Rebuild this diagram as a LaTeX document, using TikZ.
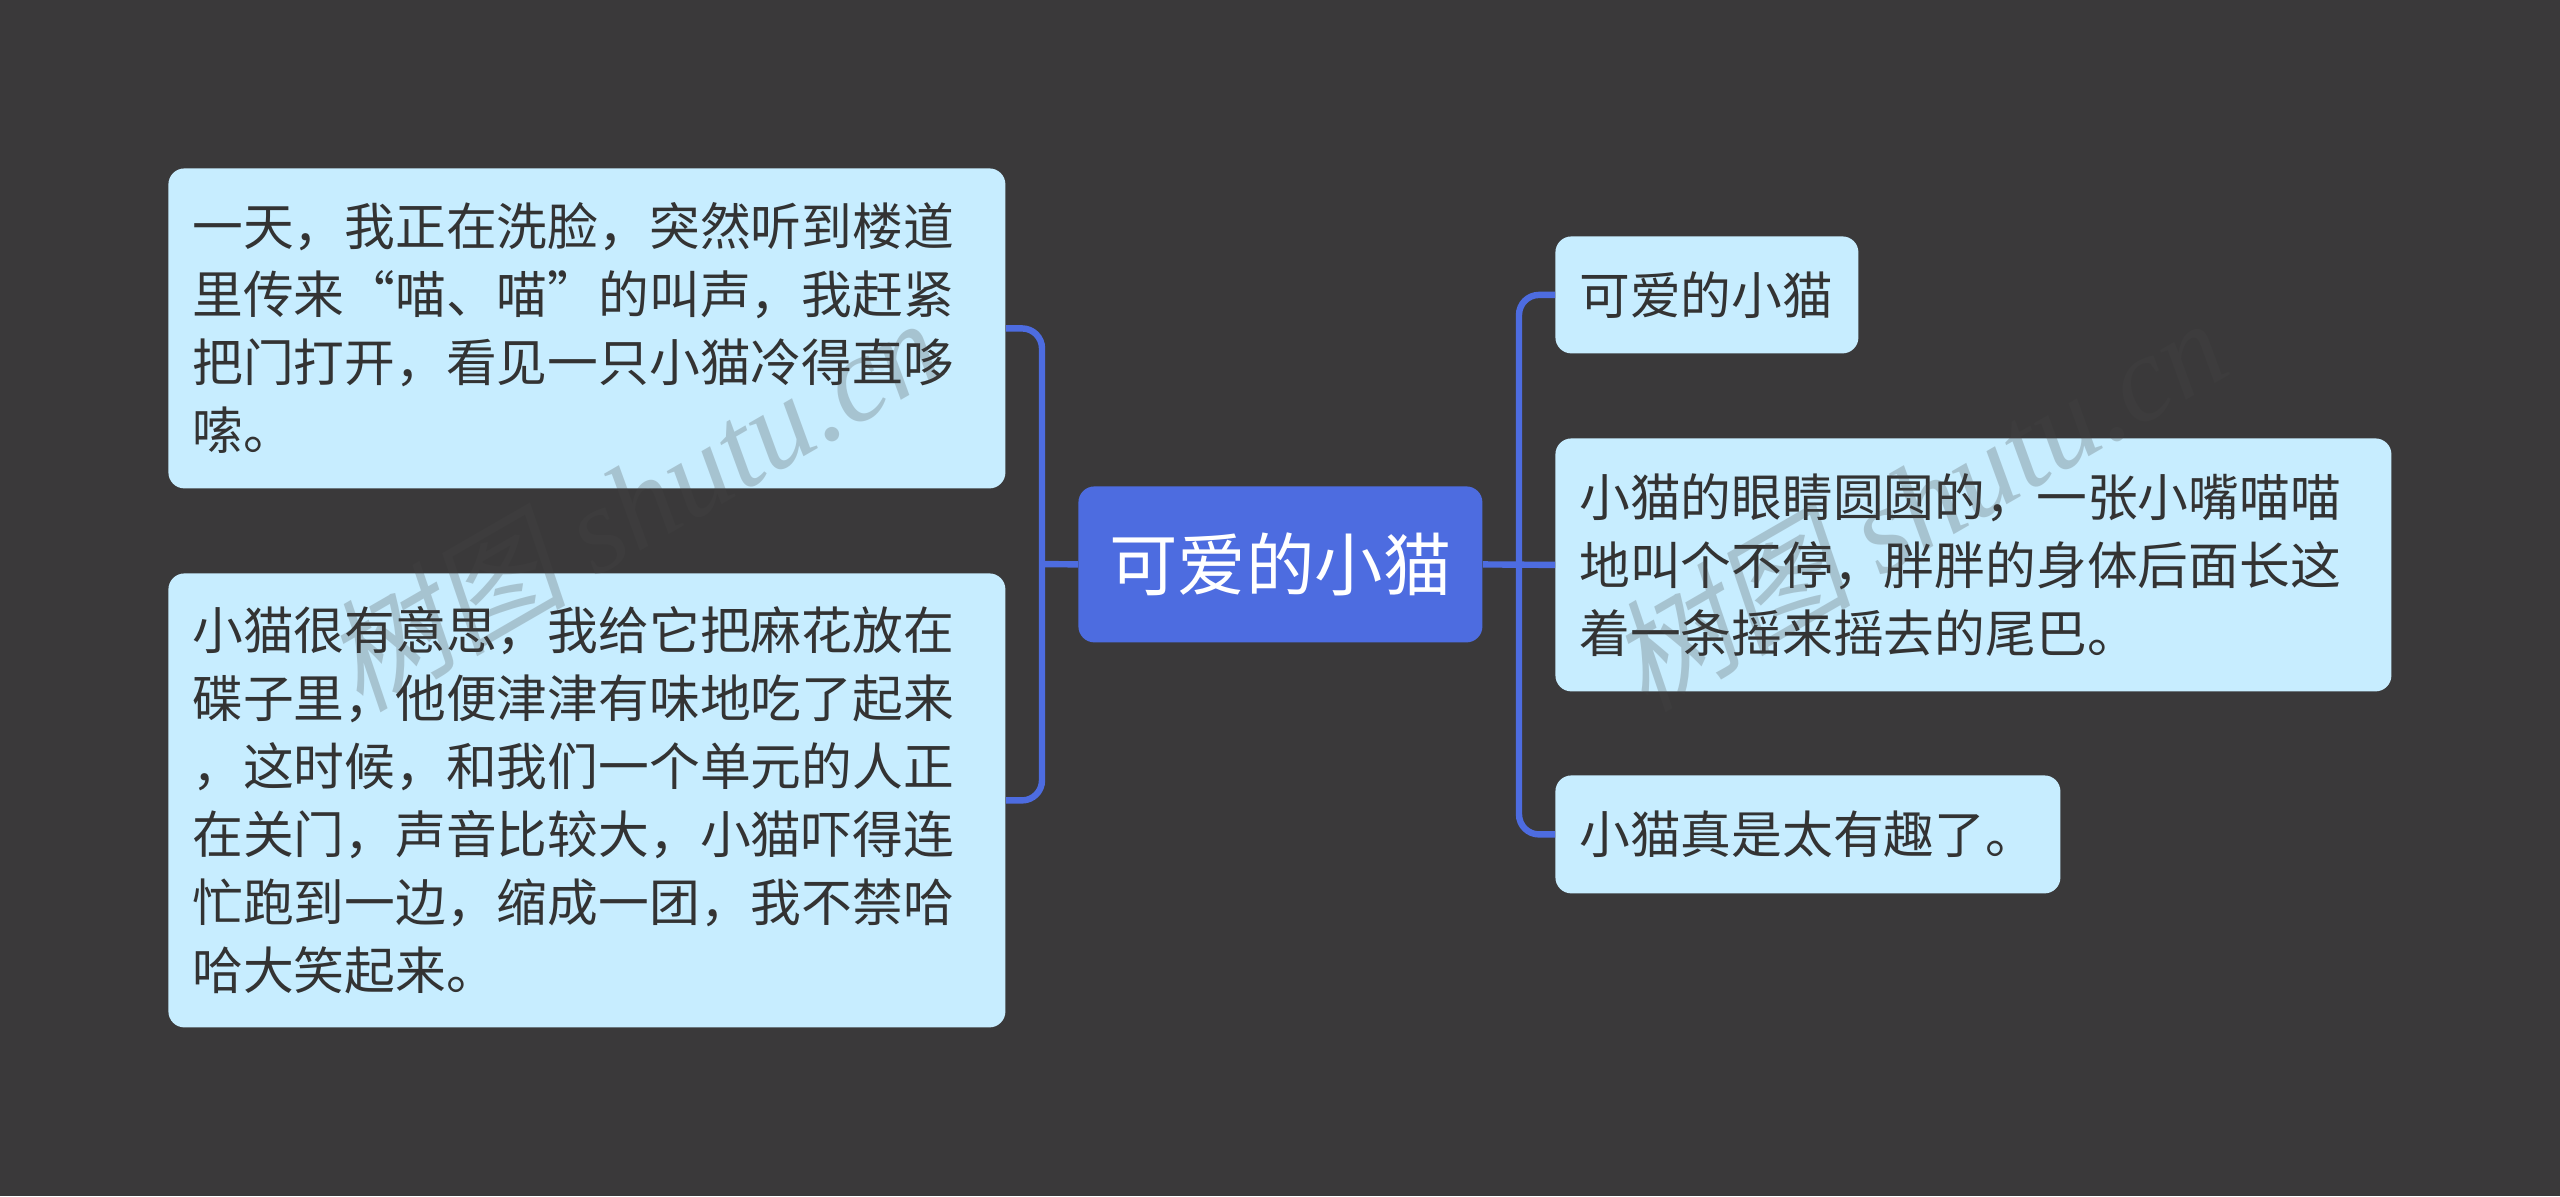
\documentclass[tikz,border=0pt]{standalone}
\usepackage{fontspec}
\setmainfont{Noto Sans CJK SC}
\newfontfamily\markcjk[FakeSlant=0.2]{Noto Sans CJK SC}
\newfontfamily\marklatin{Liberation Serif}
\definecolor{bgdark}{HTML}{3A393A}
\definecolor{boxblue}{HTML}{C7EDFF}
\definecolor{rootblue}{HTML}{4D6CE0}
\definecolor{inkdark}{HTML}{333333}
\definecolor{markgrey}{HTML}{464646}
\tikzset{
  topicbox/.style={anchor=north west,fill=boxblue,text=inkdark,rounded corners=8pt,
    inner xsep=12pt,inner ysep=0pt,align=left,font=\fontsize{25.38pt}{34pt}\selectfont},
  rootbox/.style={anchor=north west,fill=rootblue,text=white,rounded corners=8pt,
    inner sep=0pt,align=center,font=\fontsize{34.2pt}{40pt}\selectfont},
  branch/.style={draw=rootblue,line width=3.2pt,rounded corners=10pt},
  markword/.style={text=markgrey,opacity=.25,rotate=30,anchor=south west,inner sep=0pt,
    font=\fontsize{61pt}{61pt}\selectfont}
}
\begin{document}
\begin{tikzpicture}[x=0.5pt,y=0.5pt]

\useasboundingbox (0,0) rectangle (2560,-1196);
\fill[bgdark] (0,0) rectangle (2560,-1196);

\coordinate (trunkl) at (1042,-564);
\coordinate (trunkr) at (1519,-564);

\node[rootbox,minimum width=202pt,minimum height=78pt] (root) at (1078,-486) {可爱的小猫};

\node[topicbox,text width=394.5pt,minimum height=160pt] (lefta) at (168,-168)
  {一天，我正在洗脸，突然听到楼道\\里传来“喵、喵”的叫声，我赶紧\\把门打开，看见一只小猫冷得直哆\\嗦。};
\node[topicbox,text width=394.5pt,minimum height=227pt] (leftb) at (168,-573)
  {小猫很有意思，我给它把麻花放在\\碟子里，他便津津有味地吃了起来\\，这时候，和我们一个单元的人正\\在关门，声音比较大，小猫吓得连\\忙跑到一边，缩成一团，我不禁哈\\哈大笑起来。};

\node[topicbox,text width=127.5pt,minimum height=58.5pt] (righta) at (1555,-236) {可爱的小猫};
\node[topicbox,text width=394pt,minimum height=126.5pt] (rightb) at (1555,-438)
  {小猫的眼睛圆圆的，一张小嘴喵喵\\地叫个不停，胖胖的身体后面长这\\着一条摇来摇去的尾巴。};
\node[topicbox,text width=228.5pt,minimum height=59pt] (rightc) at (1555,-775) {小猫真是太有趣了。};

\draw[branch] (root.west) -- (trunkl);
\draw[branch] (lefta.east) -| (trunkl) |- (leftb.east);
\draw[branch] (root.east) -- (rightb.west);
\draw[branch] (righta.west) -| (trunkr) |- (rightc.west);

\node[markword] (marka) at (365,-722) {\markcjk 树图 \marklatin\itshape shutu.cn};
\node[markword] (markb) at (1650,-722) {\markcjk 树图 \marklatin\itshape shutu.cn};

\end{tikzpicture}
\end{document}
